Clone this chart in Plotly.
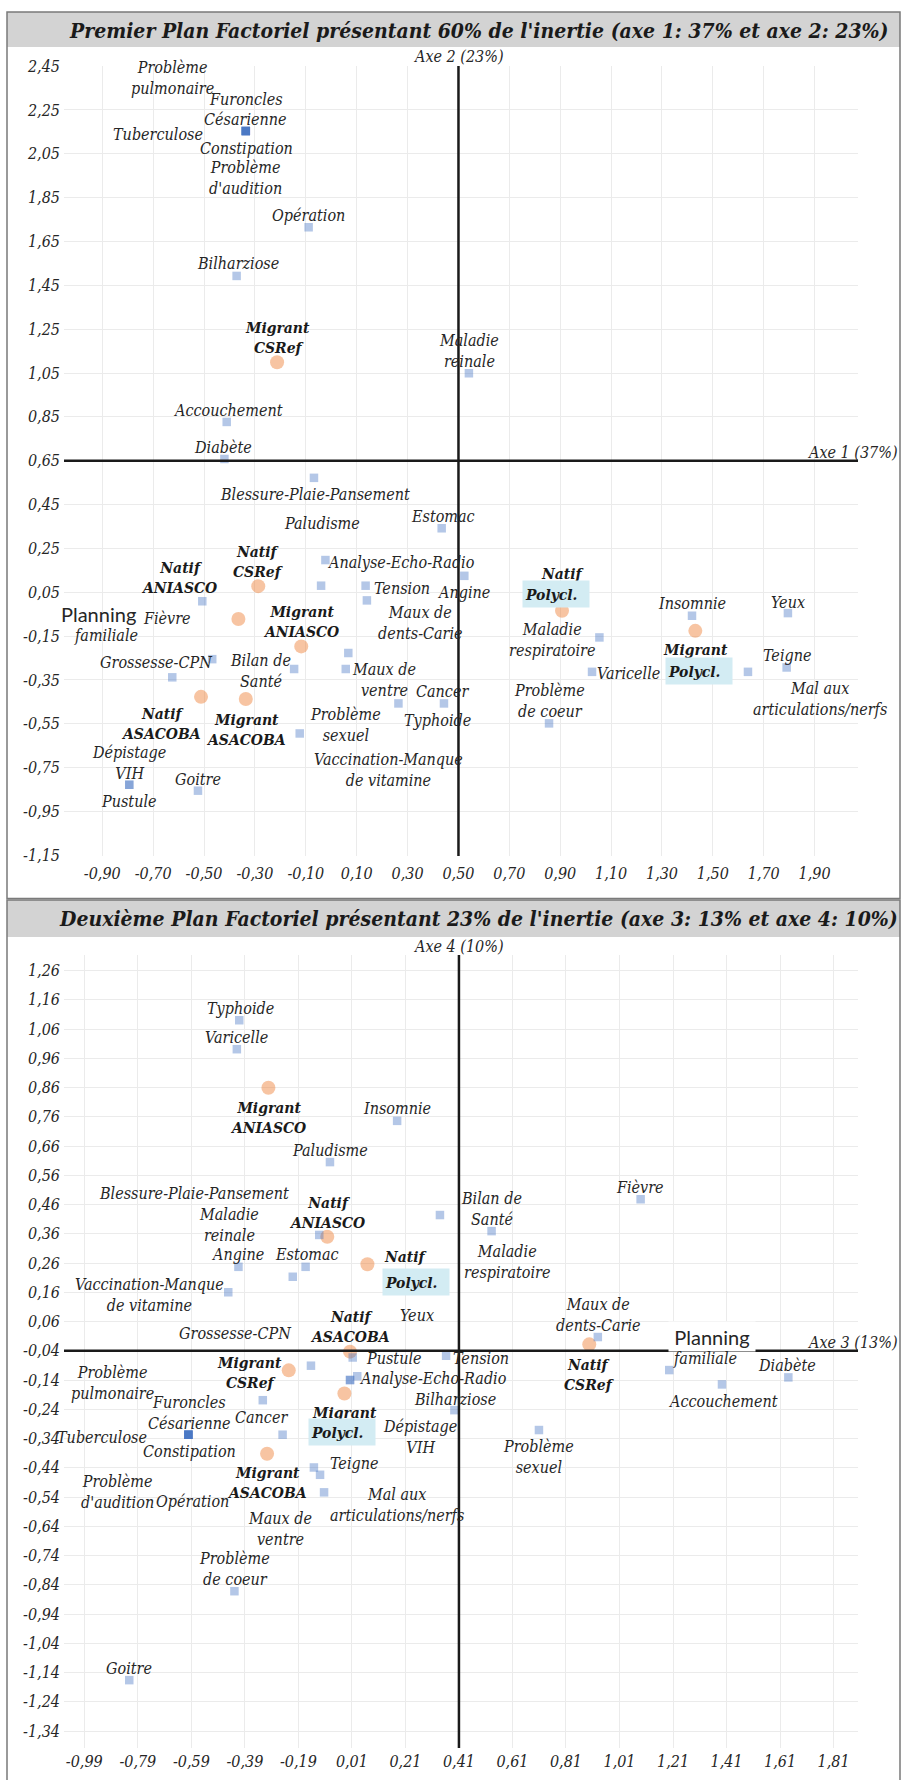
import plotly.graph_objects as go

W, H = 902, 1780

# ------------------------------------------------------------------
# Active categories (motifs de consultation)
# ------------------------------------------------------------------
categories = [
    "Problème\npulmonaire", "Furoncles", "Césarienne", "Tuberculose", "Constipation",
    "Problème\nd'audition", "Opération", "Bilharziose", "Maladie\nreinale", "Accouchement",
    "Diabète", "Blessure-Plaie-Pansement", "Estomac", "Analyse-Echo-Radio", "Paludisme",
    "Tension", "Maux de\ndents-Carie", "Fièvre", "Grossesse-CPN", "Planning\nfamiliale",
    "Bilan de\nSanté", "Vaccination-Manque\nde vitamine", "Maux de\nventre", "Typhoide", "Cancer",
    "Problème\nsexuel", "Dépistage\nVIH", "Pustule", "Goitre", "Angine",
    "Insomnie", "Yeux", "Maladie\nrespiratoire", "Varicelle", "Mal aux\narticulations/nerfs",
    "Teigne", "Problème\nde coeur",
]

# Coordinates on the first factorial plane (axe 1, axe 2)
cat_axe1 = [-0.336, -0.336, -0.336, -0.336, -0.336, -0.336, -0.089, -0.372, 0.541, -0.411,
            -0.420, -0.068, 0.434, -0.023, -0.040, 0.135, 0.140, -0.507, -0.468, -0.625,
            -0.146, 0.067, 0.057, 0.264, 0.443, -0.124, -0.794, -0.794, -0.524, 0.523,
            1.418, 1.795, 1.054, 1.025, 1.638, 1.790, 0.856]
cat_axe2 = [2.154, 2.154, 2.154, 2.154, 2.154, 2.154, 1.715, 1.493, 1.049, 0.827,
            0.658, 0.572, 0.342, 0.197, 0.080, 0.080, 0.013, 0.009, -0.255, -0.338,
            -0.300, -0.227, -0.300, -0.457, -0.457, -0.594, -0.828, -0.828, -0.855, 0.125,
            -0.057, -0.045, -0.156, -0.313, -0.313, -0.293, -0.548]

# Coordinates on the second factorial plane (axe 3, axe 4)
cat_axe3 = [-0.601, -0.601, -0.601, -0.601, -0.601, -0.601, -0.249, 0.393, -0.112, 1.393,
            1.641, -0.211, -0.163, 0.030, -0.072, 0.362, 0.929, 1.089, -0.143, 1.196,
            0.532, -0.452, -0.094, -0.411, -0.323, 0.709, 0.003, 0.003, -0.822, -0.414,
            0.179, 0.013, 0.339, -0.420, -0.109, -0.132, -0.429]
cat_axe4 = [-0.327, -0.327, -0.327, -0.327, -0.327, -0.327, -0.327, -0.243, 0.356, -0.155,
            -0.131, 0.213, 0.247, -0.127, 0.605, -0.057, 0.007, 0.478, -0.091, -0.106,
            0.369, 0.160, -0.524, 1.090, -0.209, -0.311, -0.140, -0.140, -1.166, 0.247,
            0.746, -0.063, 0.424, 0.991, -0.464, -0.439, -0.862]

# ------------------------------------------------------------------
# Supplementary modalities (statut x structure)
# ------------------------------------------------------------------
groupes = ["Migrant\nCSRef", "Natif\nCSRef", "Migrant\nANIASCO", "Natif\nANIASCO",
           "Migrant\nASACOBA", "Natif\nASACOBA", "Migrant\nPolycl.", "Natif\nPolycl."]
grp_axe1 = [-0.213, -0.287, -0.118, -0.365, -0.336, -0.512, 1.431, 0.907]
grp_axe2 = [1.099, 0.078, -0.197, -0.072, -0.437, -0.427, -0.126, -0.034]
grp_axe3 = [-0.226, 0.897, -0.302, -0.082, -0.307, 0.003, -0.018, 0.068]
grp_axe4 = [-0.107, -0.018, 0.859, 0.350, -0.392, -0.043, -0.186, 0.256]

# Tick values
p1_xticks = [-0.90, -0.70, -0.50, -0.30, -0.10, 0.10, 0.30, 0.50, 0.70, 0.90, 1.10, 1.30, 1.50, 1.70, 1.90]
p1_yticks = [-1.15, -0.95, -0.75, -0.55, -0.35, -0.15, 0.05, 0.25, 0.45, 0.65, 0.85, 1.05, 1.25,
             1.45, 1.65, 1.85, 2.05, 2.25, 2.45]
p2_xticks = [-0.99, -0.79, -0.59, -0.39, -0.19, 0.01, 0.21, 0.41, 0.61, 0.81, 1.01, 1.21, 1.41, 1.61, 1.81]
p2_yticks = [-1.34, -1.24, -1.14, -1.04, -0.94, -0.84, -0.74, -0.64, -0.54, -0.44, -0.34, -0.24, -0.14,
             -0.04, 0.06, 0.16, 0.26, 0.36, 0.46, 0.56, 0.66, 0.76, 0.86, 0.96, 1.06, 1.16, 1.26]


def fr(values):
    return [f"{v:.2f}".replace(".", ",") for v in values]


titre1 = "Premier Plan Factoriel présentant 60% de l'inertie (axe 1: 37% et axe 2: 23%)"
titre2 = "Deuxième Plan Factoriel présentant 23% de l'inertie (axe 3: 13% et axe 4: 10%)"

# ------------------------------------------------------------------
# Label placement (pixel offsets of the label centre from its point)
# ------------------------------------------------------------------
cat_off1 = [(-73, -53), (0, -32), (0, -12), (-88, 3), (1, 17), (0, 47), (0, -12), (1, -12),
            (0, -22), (1, -11), (-1, -11), (1, 17), (1, -12), (76, 2), (1, -62), (36, 3),
            (54, 23), (-35, 17), (-56, 3), None, (-34, 2), (40, 117), (38, 11), (39, 17),
            (-1, -12), (46, -8), (0, -22), (0, 17), (0, -11), (-1, 17), (0, -12), (0, -11),
            (-47, 3), (36, 2), (72, 27), (0, -12), (0, -22)]
cat_off2 = [(-76, -52), (1, -32), (1, -11), (-86, 3), (1, 17), (-71, 57), (-90, 67), (1, -11),
            (-90, -10), (1, 17), (-1, -12), (-99, -83), (1, -12), (76, 2), (0, -12), (35, 3),
            (1, -22), (-1, -12), (-75, -32), None, (0, -22), (-79, 3), (-44, 37), (1, -12),
            (-1, 17), (0, 27), (70, 57), (44, -22), (0, -12), (-1, -12), (0, -12), (64, -42),
            (68, 47), (0, -12), (77, 30), (40, -4), (0, -22)]
# "Planning" (boxed) and "familiale" parts for each plane
planning_off = {1: ((-74, -63), (-66, -42), False), 2: ((43, -34), (36, -12), True)}

grp_off1 = [(0, -25), (0, -25), (0, -25), (-59, -42), (0, 30), (-40, 27), None, None]
grp_off2 = [(-39, 2), (0, 30), (0, 30), (0, -24), (0, 29), (0, -25), None, None]
# Polycl. groups: (word offset, box offset)
polycl_off1 = {6: ((0, 19), (4, 40)), 7: ((0, -37), (-6, -17))}
polycl_off2 = {6: ((0, 19), (-2, 39)), 7: ((38, -8), (49, 18))}

SERIF = "DejaVu Serif Condensed, DejaVu Serif, serif"
TXT = "#262626"
lab_font = dict(family=SERIF, size=16, color=TXT, style="italic")
grp_font = dict(family=SERIF, size=15.5, color="#1a1a1a", style="italic", weight="bold")
tick_font = dict(family=SERIF, size=16, color=TXT, style="italic")

# plot-area geometry in pixels
PX_L, PX_R = 64, 858
P1_T, P1_B = 66, 856
P2_T, P2_B = 955, 1748
p1_xrange = [-1.0506, 2.0705]
p1_yrange = [-1.153, 2.4506]
p2_xrange = [-1.0659, 1.9013]
p2_yrange = [-1.398, 1.313]
p1_origin = (0.50, 0.65)
p2_origin = (0.41, -0.04)

fig = go.Figure()

for xa, ya, gx, gy, cx, cy in [("x", "y", grp_axe1, grp_axe2, cat_axe1, cat_axe2),
                                ("x2", "y2", grp_axe3, grp_axe4, cat_axe3, cat_axe4)]:
    fig.add_trace(go.Scatter(x=gx, y=gy, xaxis=xa, yaxis=ya, mode="markers",
                             marker=dict(symbol="circle", size=14, color="#ED7D31", opacity=0.45,
                                         line=dict(width=0)),
                             hoverinfo="skip", showlegend=False))
    fig.add_trace(go.Scatter(x=cx, y=cy, xaxis=xa, yaxis=ya, mode="markers",
                             marker=dict(symbol="square", size=8.5, color="#4472C4", opacity=0.4,
                                         line=dict(width=0)),
                             hoverinfo="skip", showlegend=False))


def label(xref, yref, x, y, text, off, font, **kw):
    fig.add_annotation(x=x, y=y, xref=xref, yref=yref, text=text, showarrow=False,
                       xshift=off[0], yshift=-off[1], xanchor="center", yanchor="middle",
                       font=font, **kw)


planes = [
    (1, "x", "y", cat_axe1, cat_axe2, cat_off1, grp_axe1, grp_axe2, grp_off1, polycl_off1),
    (2, "x2", "y2", cat_axe3, cat_axe4, cat_off2, grp_axe3, grp_axe4, grp_off2, polycl_off2),
]
for k, xr, yr, cx, cy, coff, gx, gy, goff, poff in planes:
    for name, x, y, off in zip(categories, cx, cy, coff):
        if name.startswith("Planning"):
            o1, o2, boxed = planning_off[k]
            label(xr, yr, x, y, "Planning", o1,
                  dict(family="Lato, Liberation Sans, sans-serif", size=20, color=TXT),
                  **(dict(bgcolor="white", width=82, height=25, borderpad=2) if boxed else {}))
            label(xr, yr, x, y, "familiale", o2, lab_font)
            continue
        label(xr, yr, x, y, name.replace("\n", "<br>"), off, lab_font)
    for i, (name, x, y) in enumerate(zip(groupes, gx, gy)):
        if i in poff:
            word_off, box_off = poff[i]
            label(xr, yr, x, y, name.split("\n")[0], word_off, grp_font)
            label(xr, yr, x, y, name.split("\n")[1], box_off, grp_font,
                  bgcolor="#d3ecf3", width=62, height=22, borderpad=2, align="left")
            continue
        label(xr, yr, x, y, name.replace("\n", "<br>"), goff[i], grp_font)

# axis names
axname_font = dict(family=SERIF, size=16, color=TXT, style="italic")
fig.add_annotation(x=p1_origin[0], y=1 - 57 / H, xref="x", yref="paper", text="Axe 2 (23%)",
                   showarrow=False, xanchor="center", yanchor="middle", font=axname_font)
fig.add_annotation(x=900 / W, y=p1_origin[1], xref="paper", yref="y", text="Axe 1 (37%)",
                   showarrow=False, xanchor="right", yanchor="middle", yshift=8, font=axname_font)
fig.add_annotation(x=p2_origin[0], y=1 - 946 / H, xref="x2", yref="paper", text="Axe 4 (10%)",
                   showarrow=False, xanchor="center", yanchor="middle", font=axname_font)
fig.add_annotation(x=900 / W, y=p2_origin[1], xref="paper", yref="y2", text="Axe 3 (13%)",
                   showarrow=False, xanchor="right", yanchor="middle", yshift=8, font=axname_font)

# titles
title_font = dict(family=SERIF, size=21, color="#1a1a1a", style="italic", weight="bold")
fig.add_annotation(x=478 / W, y=1 - 30 / H, xref="paper", yref="paper", text=titre1,
                   showarrow=False, xanchor="center", yanchor="middle", font=title_font)
fig.add_annotation(x=478 / W, y=1 - 918.5 / H, xref="paper", yref="paper", text=titre2,
                   showarrow=False, xanchor="center", yanchor="middle", font=title_font)


def py(px):
    return 1 - px / H


shapes = [
    # frames and title bands
    dict(type="rect", xref="paper", yref="paper", x0=7 / W, x1=900 / W, y0=py(12), y1=py(47),
         fillcolor="#d3d3d3", line=dict(width=0), layer="below"),
    dict(type="rect", xref="paper", yref="paper", x0=7 / W, x1=900 / W, y0=py(900), y1=py(937),
         fillcolor="#d3d3d3", line=dict(width=0), layer="below"),
    dict(type="rect", xref="paper", yref="paper", x0=7 / W, x1=900 / W, y0=py(12), y1=py(898.5),
         line=dict(color="#7a7a7a", width=1.5), layer="below"),
    dict(type="rect", xref="paper", yref="paper", x0=7 / W, x1=900 / W, y0=py(900), y1=py(1790),
         line=dict(color="#7a7a7a", width=1.5), layer="below"),
    # factorial axes
    dict(type="line", xref="x", yref="y", x0=p1_origin[0], x1=p1_origin[0],
         y0=p1_yrange[0], y1=p1_yrange[1], line=dict(color="#1a1a1a", width=2.5)),
    dict(type="line", xref="x", yref="y", x0=p1_xrange[0], x1=p1_xrange[1],
         y0=p1_origin[1], y1=p1_origin[1], line=dict(color="#1a1a1a", width=2.5)),
    dict(type="line", xref="x2", yref="y2", x0=p2_origin[0], x1=p2_origin[0],
         y0=p2_yrange[0], y1=p2_yrange[1], line=dict(color="#1a1a1a", width=2.5)),
    dict(type="line", xref="x2", yref="y2", x0=p2_xrange[0], x1=p2_xrange[1],
         y0=p2_origin[1], y1=p2_origin[1], line=dict(color="#1a1a1a", width=2.5)),
]

axis_common = dict(showgrid=True, gridcolor="#ebebeb", gridwidth=1, zeroline=False,
                   showline=False, ticks="", tickfont=tick_font, automargin=False)

fig.update_layout(
    width=W, height=H, margin=dict(l=0, r=0, t=0, b=0, autoexpand=False),
    paper_bgcolor="white", plot_bgcolor="white", showlegend=False,
    shapes=shapes,
    xaxis=dict(domain=[PX_L / W, PX_R / W], range=p1_xrange, anchor="y",
               tickvals=p1_xticks, ticktext=fr(p1_xticks), ticklabelstandoff=6, **axis_common),
    yaxis=dict(domain=[py(P1_B), py(P1_T)], range=p1_yrange, anchor="x", ticklabelstandoff=3,
               tickvals=p1_yticks, ticktext=fr(p1_yticks), **axis_common),
    xaxis2=dict(domain=[PX_L / W, PX_R / W], range=p2_xrange, anchor="y2",
                tickvals=p2_xticks, ticktext=fr(p2_xticks), ticklabelstandoff=2, **axis_common),
    yaxis2=dict(domain=[py(P2_B), py(P2_T)], range=p2_yrange, anchor="x2", ticklabelstandoff=3,
                tickvals=p2_yticks, ticktext=fr(p2_yticks), **axis_common),
)

fig.write_html("out.html")
